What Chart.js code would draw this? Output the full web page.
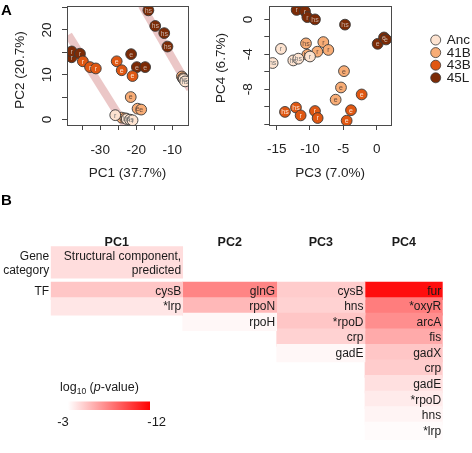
<!DOCTYPE html>
<html><head><meta charset="utf-8">
<script src="https://cdn.jsdelivr.net/npm/chart.js@4.4.0/dist/chart.umd.min.js"></script>
<style>
html,body{margin:0;padding:0;background:#fff;width:472px;height:453px;overflow:hidden;}
.c{position:absolute;}
</style></head><body>
<div class="c" style="left:0;top:0;width:230px;height:190px"><canvas id="c1"></canvas></div>
<div class="c" style="left:210px;top:0;width:262px;height:190px"><canvas id="c2"></canvas></div>
<div class="c" style="left:0;top:190px;width:472px;height:263px"><canvas id="c3"></canvas></div>
<script>
// ---------------- DATA ----------------
const GROUPS = ['Anc', '41B', '43B', '45L'];

// Panel A, left: [PC1, PC2, tag]
const pc12_Anc = [[-25.8, 0.95, 'r'], [-22.6, 0.1, 'hs'], [-21.7, -0.05, 'hs'], [-21.0, -0.2, 'r'], [-6.8, 9.0, 'hs'], [-6.4, 8.5, 'hs']];
const pc12_41B = [[-24.0, 0.4, 'r'], [-23.0, 0.25, 'r'], [-21.5, 5.0, 'e'], [-19.6, 2.4, 'e'], [-18.6, 2.2, 'e'], [-7.3, 9.6, 'hs'], [-7.0, 9.2, 'hs']];
const pc12_43B = [[-34.8, 13.0, 'r'], [-32.8, 11.7, 'r'], [-31.2, 11.4, 'r'], [-25.4, 13.0, 'e'], [-24.0, 11.0, 'e'], [-21.0, 9.7, 'e']];
const pc12_45L = [[-37.9, 13.9, 'r'], [-16.6, 24.4, 'hs'], [-14.7, 20.9, 'hs'], [-12.2, 19.3, 'hs'], [-11.3, 16.3, 'hs'], [-37.9, 15.2, 'r'], [-35.6, 14.7, 'r'], [-21.4, 14.6, 'e'], [-19.8, 11.7, 'e'], [-17.5, 11.7, 'e']];
const bandA = [[-38.8, 18.9], [-23.1, -1.25]];
const bandB = [[-18.4, 25.5], [-5.0, 6.8]];

// Panel A, right: [PC3, PC4, tag]
const pc34_Anc = [[-14.35, -3.38, 'r'], [-15.6, -5.0, 'hs'], [-12.5, -4.7, 'hs'], [-11.75, -4.5, 'hs'], [-10.0, -4.25, 'r']];
const pc34_41B = [[-10.6, -2.75, 'hs'], [-10.4, -4.05, 'hs'], [-8.0, -2.6, 'r'], [-8.9, -3.7, 'r'], [-7.25, -3.5, 'r'], [-4.9, -5.93, 'e'], [-5.35, -7.8, 'e'], [-6.15, -9.2, 'e']];
const pc34_43B = [[-2.25, -8.6, 'e'], [-3.85, -10.4, 'e'], [-4.5, -11.6, 'e'], [-13.75, -10.6, 'hs'], [-12.1, -10.1, 'hs'], [-11.4, -11.0, 'r'], [-9.25, -10.5, 'r'], [-8.85, -11.3, 'r']];
const pc34_45L = [[-12.0, 1.08, 'r'], [-10.75, 0.93, 'r'], [-10.4, 0.26, 'r'], [-9.25, 0.0, 'hs'], [-4.75, -0.6, 'hs'], [0.15, -2.8, 'e'], [1.1, -2.07, 'e'], [1.4, -2.3, 'e']];

const xTicks12 = [-30, -20, -10], yTicks12 = [0, 10, 20];
const xTicks34 = [-15, -10, -5, 0], yTicks34 = [0, -4, -8];

// Panel B: enrichment, log10(p-value)
const PCS = ['PC1', 'PC2', 'PC3', 'PC4'];
const tf_PC1 = ['cysB', '*lrp'];
const lp_PC1 = [-5.0, -3.9];
const tf_PC2 = ['glnG', 'rpoN', 'rpoH'];
const lp_PC2 = [-7.3, -5.5, -3.3];
const tf_PC3 = ['cysB', 'hns', '*rpoD', 'crp', 'gadE'];
const lp_PC3 = [-4.8, -4.6, -5.0, -4.6, -3.3];
const tf_PC4 = ['fur', '*oxyR', 'arcA', 'fis', 'gadX', 'crp', 'gadE', '*rpoD', 'hns', '*lrp'];
const lp_PC4 = [-11.5, -7.6, -7.0, -6.0, -5.0, -4.8, -4.1, -3.7, -3.4, -3.15];
const geneCatText = ['Structural component,', 'predicted'];
const geneCatLp = -4.2;
const colorRange = [-3, -12];

// ---------------- STYLE ----------------
const FONT = '"Liberation Sans", Arial, sans-serif';
const COLORS = { 'Anc': '#fde3d0', '41B': '#f8ad76', '43B': '#df5712', '45L': '#7c2b06' };
const TAGCOL = { 'Anc': '#777', '41B': '#6a4a3a', '43B': 'rgba(255,236,222,0.95)', '45L': 'rgba(205,185,175,0.95)' };
const BAND = 'rgba(210,130,130,0.45)';

function lpColor(v) {
  const t = Math.min(1, Math.max(0, (colorRange[0] - v) / (colorRange[0] - colorRange[1])));
  const g = Math.round(255 * (1 - t));
  return `rgb(255,${g},${g})`;
}

const decor = {
  id: 'decor',
  afterDatasetDraw(chart, args) {
    const ds = chart.data.datasets[args.index];
    if (!ds.tags) return;
    const ctx = chart.ctx; ctx.save();
    ctx.font = '7px ' + FONT; ctx.textAlign = 'center'; ctx.textBaseline = 'middle';
    ctx.fillStyle = ds.tagColor;
    args.meta.data.forEach((pt, i) => ctx.fillText(ds.tags[i], pt.x, pt.y + 0.5));
    ctx.restore();
  },
  afterDraw(chart, args, o) {
    const ctx = chart.ctx, ca = chart.chartArea, xs = chart.scales.x, ys = chart.scales.y;
    ctx.save();
    ctx.strokeStyle = '#4a4a4a'; ctx.lineWidth = 1;
    ctx.strokeRect(Math.round(ca.left) + 0.5, Math.round(ca.top) + 0.5, Math.round(ca.right - ca.left), Math.round(ca.bottom - ca.top));
    ctx.fillStyle = '#222'; ctx.font = '13.5px ' + FONT;
    ctx.textAlign = 'center'; ctx.textBaseline = 'middle';
    o.xTicks.forEach(v => ctx.fillText(String(v), xs.getPixelForValue(v), o.xLabY));
    o.yTicks.forEach(v => {
      ctx.save(); ctx.translate(o.yLabX, ys.getPixelForValue(v)); ctx.rotate(-Math.PI / 2);
      ctx.fillText(String(v), 0, 0); ctx.restore();
    });
    ctx.fillText(o.xTitle, (ca.left + ca.right) / 2, o.xTitleY);
    ctx.save(); ctx.translate(o.yTitleX, o.yTitleCY); ctx.rotate(-Math.PI / 2);
    ctx.fillText(o.yTitle, 0, 0); ctx.restore();
    if (o.panel) {
      ctx.font = 'bold 15px ' + FONT; ctx.textAlign = 'left'; ctx.textBaseline = 'alphabetic';
      ctx.fillStyle = '#000'; ctx.fillText(o.panel, 1, 15);
    }
    if (o.legend) {
      ctx.font = '13.5px ' + FONT; ctx.textAlign = 'left'; ctx.textBaseline = 'middle';
      GROUPS.forEach((g, i) => {
        const y = o.legend.y + i * o.legend.dy;
        ctx.beginPath(); ctx.arc(o.legend.x, y, 5, 0, Math.PI * 2);
        ctx.fillStyle = COLORS[g]; ctx.fill();
        ctx.strokeStyle = '#3a3a3a'; ctx.lineWidth = 0.8; ctx.stroke();
        ctx.fillStyle = '#222'; ctx.fillText(g, o.legend.x + 11, y + 0.5);
      });
    }
    ctx.restore();
  }
};

function makeScatter(id, pts, bands, xr, yr, L, deco) {
  const datasets = GROUPS.map(g => ({
    label: g, data: pts[g].map(p => ({ x: p[0], y: p[1] })), tags: pts[g].map(p => p[2]),
    tagColor: TAGCOL[g], backgroundColor: COLORS[g], borderColor: '#3a3a3a', borderWidth: 0.9,
    pointRadius: 5.4, pointHoverRadius: 5.4
  }));
  bands.forEach(b => datasets.push({
    label: 'band', data: b.map(p => ({ x: p[0], y: p[1] })), showLine: true,
    borderColor: BAND, borderWidth: 8, pointRadius: 0, borderCapStyle: 'butt'
  }));
  const axis = (min, max, step, fit) => ({
    type: 'linear', min, max, afterFit: fit,
    ticks: { display: false, stepSize: step, includeBounds: false },
    grid: { drawOnChartArea: false, drawTicks: true, tickLength: 5, color: '#444', lineWidth: 1 },
    border: { display: false }
  });
  return new Chart(document.getElementById(id), {
    type: 'scatter',
    data: { datasets },
    options: {
      responsive: true, maintainAspectRatio: false, animation: false,
      layout: { padding: { left: 0, right: L.right, top: 4, bottom: 0 } },
      scales: {
        x: axis(xr[0], xr[1], xr[2], s => { s.height = L.xh; }),
        y: axis(yr[0], yr[1], yr[2], s => { s.width = L.yw; })
      },
      plugins: { legend: { display: false }, tooltip: { enabled: false }, decor: deco }
    },
    plugins: [decor]
  });
}

makeScatter('c1',
  { 'Anc': pc12_Anc, '41B': pc12_41B, '43B': pc12_43B, '45L': pc12_45L },
  [bandA, bandB], [-39.2, -5.6, 5], [-1.25, 25.3, 5],
  { right: 42, xh: 65, yw: 67 },
  { xTicks: xTicks12, yTicks: yTicks12, xLabY: 150, yLabX: 47, xTitle: 'PC1 (37.7%)', xTitleY: 173,
    yTitle: 'PC2 (20.7%)', yTitleX: 20, yTitleCY: 70, panel: 'A' });

makeScatter('c2',
  { 'Anc': pc34_Anc, '41B': pc34_41B, '43B': pc34_43B, '45L': pc34_45L },
  [], [-16.1, 2.15, 5], [-12.1, 1.5, 2],
  { right: 81, xh: 65, yw: 59.3 },
  { xTicks: xTicks34, yTicks: yTicks34, xLabY: 149.5, yLabX: 38.3, xTitle: 'PC3 (7.0%)', xTitleY: 173,
    yTitle: 'PC4 (6.7%)', yTitleX: 11.7, yTitleCY: 68, legend: { x: 225.7, y: 40, dy: 12.6 } });

// ---------------- Panel B heatmap ----------------
const colWidths = [132, 94, 88.3, 77.7];
const colStart = colWidths.map((w, i) => colWidths.slice(0, i).reduce((a, b) => a + b, 0));
const TFS = [tf_PC1, tf_PC2, tf_PC3, tf_PC4];
const LPS = [lp_PC1, lp_PC2, lp_PC3, lp_PC4];
const GENE_Y = -1.331, HEAD_Y = -2.606;

const heatDatasets = TFS.map((names, k) => ({
  data: names.map((n, i) => ({ x: [colStart[k], colStart[k] + colWidths[k]], y: i + 0.5 })),
  names, backgroundColor: LPS[k].map(lpColor), barThickness: 17.6, grouped: false, borderWidth: 0
}));
heatDatasets.push({
  data: [{ x: [colStart[0], colStart[0] + colWidths[0]], y: GENE_Y }],
  multi: geneCatText, backgroundColor: [lpColor(geneCatLp)], barThickness: 31.4, grouped: false, borderWidth: 0
});

const heatText = {
  id: 'heatText',
  afterDatasetsDraw(chart) {
    const ctx = chart.ctx, xs = chart.scales.x, ys = chart.scales.y, ca = chart.chartArea;
    ctx.save();
    ctx.fillStyle = '#1a1a1a'; ctx.font = '12px ' + FONT;
    ctx.textAlign = 'right'; ctx.textBaseline = 'middle';
    chart.data.datasets.forEach((ds, di) => {
      const meta = chart.getDatasetMeta(di);
      meta.data.forEach((el, i) => {
        const right = Math.max(el.x, el.base) - 1.5;
        if (ds.names) ctx.fillText(ds.names[i], right, el.y + 0.5);
        if (ds.multi) { ctx.fillText(ds.multi[0], right, el.y - 6); ctx.fillText(ds.multi[1], right, el.y + 8); }
      });
    });
    const lx = ca.left - 1.5;
    const gy = ys.getPixelForValue(GENE_Y);
    ctx.fillText('Gene', lx, gy - 6);
    ctx.fillText('category', lx, gy + 8);
    ctx.fillText('TF', lx, ys.getPixelForValue(0.5) + 0.5);
    ctx.font = 'bold 12.5px ' + FONT; ctx.textAlign = 'center';
    PCS.forEach((p, k) => ctx.fillText(p, xs.getPixelForValue(colStart[k] + colWidths[k] / 2), ys.getPixelForValue(HEAD_Y)));
    ctx.textAlign = 'left'; ctx.textBaseline = 'alphabetic'; ctx.fillStyle = '#000';
    ctx.font = 'bold 15px ' + FONT; ctx.fillText('B', 1, 15);
    // colour key
    ctx.fillStyle = '#1a1a1a';
    let x = 60; const by = 201;
    ctx.font = '12.5px ' + FONT; ctx.fillText('log', x, by); x += ctx.measureText('log').width;
    ctx.font = '8.5px ' + FONT; ctx.fillText('10', x, by + 3); x += ctx.measureText('10').width;
    ctx.font = '12.5px ' + FONT; ctx.fillText(' (', x, by); x += ctx.measureText(' (').width;
    ctx.font = 'italic 12.5px ' + FONT; ctx.fillText('p', x, by); x += ctx.measureText('p').width;
    ctx.font = '12.5px ' + FONT; ctx.fillText('-value)', x, by);
    const g = ctx.createLinearGradient(68, 0, 150, 0);
    g.addColorStop(0, lpColor(colorRange[0])); g.addColorStop(1, lpColor(colorRange[1]));
    ctx.fillStyle = g; ctx.fillRect(68, 211.5, 82, 8.5);
    ctx.fillStyle = '#1a1a1a'; ctx.font = '13px ' + FONT; ctx.textAlign = 'center'; ctx.textBaseline = 'middle';
    ctx.fillText(String(colorRange[0]), 63, 232);
    ctx.fillText(String(colorRange[1]), 156.7, 232);
    ctx.restore();
  }
};

new Chart(document.getElementById('c3'), {
  type: 'bar',
  data: { datasets: heatDatasets },
  options: {
    indexAxis: 'y', responsive: true, maintainAspectRatio: false, animation: false,
    layout: { padding: { left: 50.7, right: 29.3, top: 0, bottom: 0 } },
    scales: {
      x: { type: 'linear', min: 0, max: colWidths.reduce((a, b) => a + b, 0), display: false },
      y: { type: 'linear', min: -5.046, max: 9.983, reverse: true, display: false }
    },
    plugins: { legend: { display: false }, tooltip: { enabled: false } }
  },
  plugins: [heatText]
});
</script>
</body></html>
